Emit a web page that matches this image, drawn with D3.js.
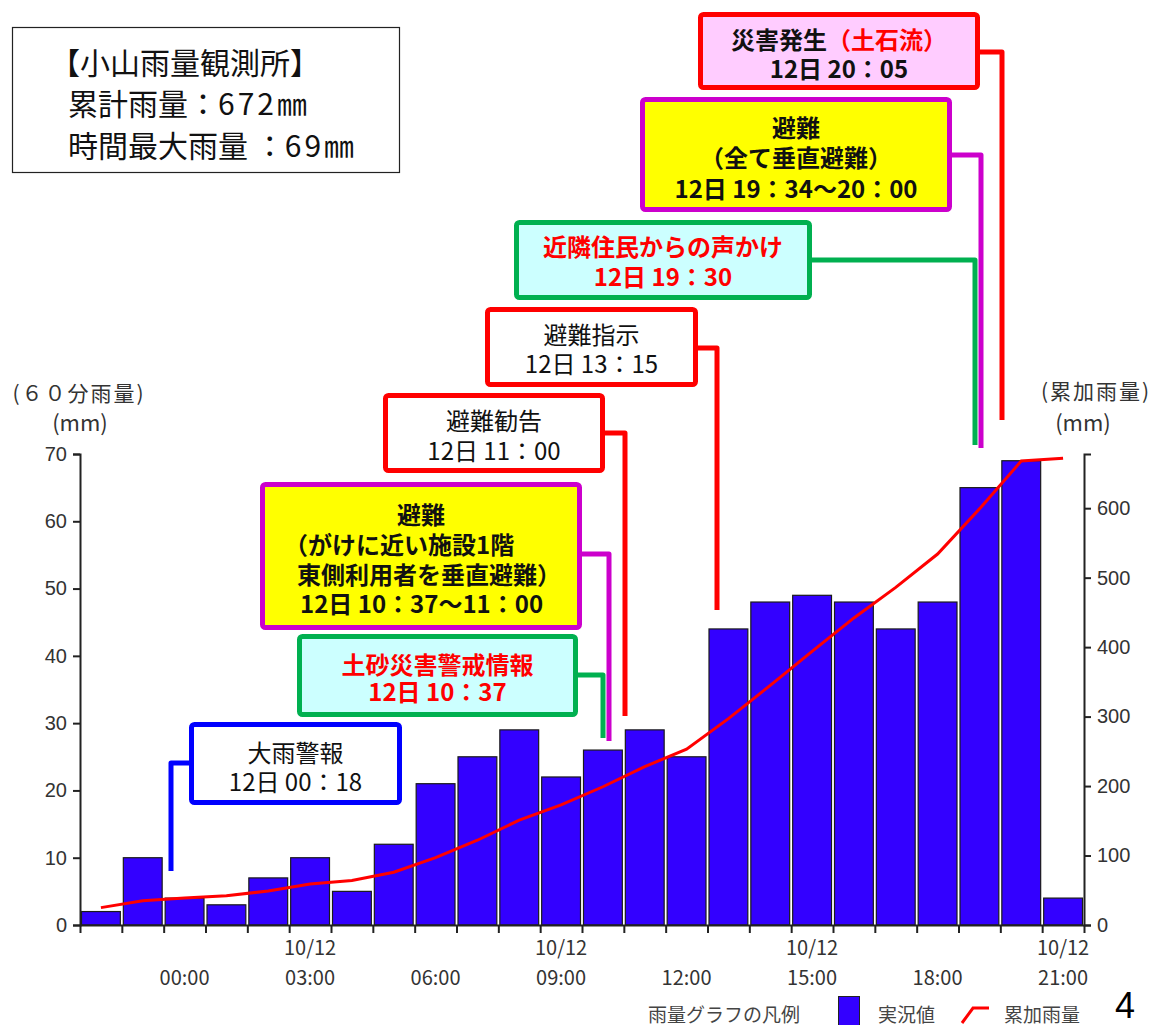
<!DOCTYPE html>
<html lang="ja">
<head>
<meta charset="utf-8">
<title>小山雨量観測所 雨量グラフ</title>
<script src="https://cdn.jsdelivr.net/npm/d3@7/dist/d3.min.js"></script>
<style>
  html, body { margin: 0; padding: 0; background: #fff; }
  svg { display: block; font-family: "Noto Sans CJK JP", "Noto Sans", sans-serif; }
  .axis text { fill: #333; font-size: 20px; }
  .axis path, .axis line { stroke: #222; stroke-width: 2; }
</style>
</head>
<body>
<svg id="chart" width="1155" height="1025"></svg>
<script>
// ---- data ----
const hours = ["22:00","23:00","00:00","01:00","02:00","03:00","04:00","05:00",
               "06:00","07:00","08:00","09:00","10:00","11:00","12:00","13:00",
               "14:00","15:00","16:00","17:00","18:00","19:00","20:00","21:00"];
// 60-minute rainfall (mm)
const rain60 = [2,10,4,3,7,10,5,12,21,25,29,22,26,29,25,44,48,49,48,44,48,65,69,4];
// accumulated rainfall (mm)
const cumRain = [25,35,39,42,49,59,64,76,97,122,151,173,199,228,253,297,345,394,442,486,534,599,668,672];
const timeTicks = ["00:00","03:00","06:00","09:00","12:00","15:00","18:00","21:00"];
const dateTicks = ["03:00","09:00","15:00","21:00"];
const dateLabel = "10/12";
const leftTicks = [0,10,20,30,40,50,60,70];
const rightTicks = [0,100,200,300,400,500,600];
const leftMax = 70;
const rightMax = 678;

// ---- layout ----
const svg = d3.select("#chart");
const plot = { left: 80, right: 1084, top: 454, bottom: 925 };

const x = d3.scaleBand().domain(hours).range([plot.left, plot.right]).paddingInner(0).paddingOuter(0);
const xEdge = d3.scaleLinear().domain([0, hours.length]).range([plot.left, plot.right]);
const yL = d3.scaleLinear().domain([0, leftMax]).range([plot.bottom, plot.top]);
const yR = d3.scaleLinear().domain([0, rightMax]).range([plot.bottom, plot.top]);

// bars
svg.append("g").selectAll("rect").data(rain60).join("rect")
  .attr("x", (d, i) => x(hours[i]) + 1.5)
  .attr("width", x.bandwidth() - 3)
  .attr("y", d => yL(d))
  .attr("height", d => yL(0) - yL(d))
  .attr("fill", "#3300ff")
  .attr("stroke", "#1a1a1a")
  .attr("stroke-width", 1.2);

// accumulated line
const line = d3.line()
  .x((d, i) => x(hours[i]) + x.bandwidth() / 2)
  .y(d => yR(d));
svg.append("path").datum(cumRain)
  .attr("d", line)
  .attr("fill", "none")
  .attr("stroke", "#ff0000")
  .attr("stroke-width", 3);

// left axis
svg.append("g").attr("class", "axis")
  .attr("transform", `translate(${plot.left},0)`)
  .call(d3.axisLeft(yL).tickValues(leftTicks).tickSize(7).tickSizeOuter(7).tickPadding(6));
// right axis
svg.append("g").attr("class", "axis")
  .attr("transform", `translate(${plot.right},0)`)
  .call(d3.axisRight(yR).tickValues(rightTicks).tickSize(7).tickSizeOuter(7).tickPadding(6));
// bottom axis: ticks on hour boundaries
svg.append("g").attr("class", "axis")
  .attr("transform", `translate(0,${plot.bottom})`)
  .call(d3.axisBottom(xEdge).tickValues(d3.range(hours.length + 1)).tickFormat("").tickSize(8).tickSizeOuter(0));

// time labels under bar centres
const lab = svg.append("g").attr("fill", "#333").attr("font-size", 20).attr("text-anchor", "middle");
lab.selectAll("text.t").data(timeTicks).join("text").attr("class", "t")
  .attr("x", d => x(d) + x.bandwidth() / 2)
  .attr("y", 976).attr("dominant-baseline", "central").text(d => d);
lab.selectAll("text.d").data(dateTicks).join("text").attr("class", "d")
  .attr("x", d => x(d) + x.bandwidth() / 2)
  .attr("y", 946).attr("dominant-baseline", "central").text(dateLabel);

// axis titles
const ttl = svg.append("g").attr("fill", "#333").attr("text-anchor", "middle")
  .attr("dominant-baseline", "central");
[
  { t: "(６０分雨量)", x: 79, y: 392, s: 21, ls: 2 },
  { t: "(mm)", x: 80, y: 421, s: 22, ls: 0 },
  { t: "(累加雨量)", x: 1096, y: 390, s: 21, ls: 2 },
  { t: "(mm)", x: 1083, y: 421, s: 22, ls: 0 }
].forEach(d => ttl.append("text").attr("x", d.x).attr("y", d.y)
  .attr("font-size", d.s).attr("letter-spacing", d.ls).text(d.t));

// station summary box
const info = svg.append("g");
info.append("rect").attr("x", 12.5).attr("y", 27.5).attr("width", 387).attr("height", 145)
  .attr("fill", "#fff").attr("stroke", "#222").attr("stroke-width", 1.2);
const infoText = info.append("text").attr("font-size", 30).attr("fill", "#111");
infoText.append("tspan").attr("x", 50).attr("y", 74).text("【小山雨量観測所】");
const l2 = infoText.append("tspan").attr("x", 68).attr("y", 115);
l2.append("tspan").text("累計雨量：");
l2.append("tspan").attr("letter-spacing", 3).text("672");
l2.append("tspan").text("㎜");
const l3 = infoText.append("tspan").attr("x", 68).attr("y", 157);
l3.append("tspan").text("時間最大雨量 ：");
l3.append("tspan").attr("letter-spacing", 3).text("69");
l3.append("tspan").text("㎜");

// event call-outs
const notes = [
  { box: [189, 722, 402, 805], stroke: "#0000ff", fill: "#ffffff", bold: false,
    lines: [[{ t: "大雨警報", c: "#111" }], [{ t: "12日 00：18", c: "#111" }]], ly: [753, 782],
    link: [[189, 763], [171, 763], [171, 871]] },
  { box: [297, 634, 578, 717], stroke: "#00b050", fill: "#ccffff", bold: true,
    lines: [[{ t: "土砂災害警戒情報", c: "#ff0000" }], [{ t: "12日 10：37", c: "#ff0000" }]], ly: [665, 692],
    link: [[578, 675], [603, 675], [603, 738]] },
  { box: [260, 482, 582, 630], stroke: "#cc00cc", fill: "#ffff00", bold: true,
    lines: [[{ t: "避難", c: "#111" }], [{ t: "（がけに近い施設1階", c: "#111" }],
            [{ t: "東側利用者を垂直避難）", c: "#111" }], [{ t: "12日 10：37～11：00", c: "#111" }]],
    ly: [515, 545, 575, 604], lx: [null, 284, 297, 300],
    link: [[582, 554], [609, 554], [609, 741]] },
  { box: [383, 393, 605, 473], stroke: "#ff0000", fill: "#ffffff", bold: false,
    lines: [[{ t: "避難勧告", c: "#111" }], [{ t: "12日 11：00", c: "#111" }]], ly: [421, 451],
    link: [[605, 433], [625, 433], [625, 716]] },
  { box: [485, 307, 698, 387], stroke: "#ff0000", fill: "#ffffff", bold: false,
    lines: [[{ t: "避難指示", c: "#111" }], [{ t: "12日 13：15", c: "#111" }]], ly: [335, 364],
    link: [[698, 348], [717, 348], [717, 610]] },
  { box: [514, 220, 812, 300], stroke: "#00b050", fill: "#ccffff", bold: true,
    lines: [[{ t: "近隣住民からの声かけ", c: "#ff0000" }], [{ t: "12日 19：30", c: "#ff0000" }]], ly: [247, 277],
    link: [[812, 260], [975, 260], [975, 445]] },
  { box: [640, 97, 952, 212], stroke: "#cc00cc", fill: "#ffff00", bold: true,
    lines: [[{ t: "避難", c: "#111" }], [{ t: "（全て垂直避難）", c: "#111" }], [{ t: "12日 19：34～20：00", c: "#111" }]],
    ly: [128, 158, 189],
    link: [[952, 155], [981, 155], [981, 448]] },
  { box: [698, 12, 980, 90], stroke: "#ff0000", fill: "#ffccff", bold: true,
    lines: [[{ t: "災害発生", c: "#111" }, { t: "（土石流）", c: "#ff0000" }], [{ t: "12日 20：05", c: "#111" }]],
    ly: [40, 69],
    link: [[980, 52], [1002, 52], [1002, 420]] }
];

const sw = 5;
const ng = svg.append("g");
notes.forEach(n => {
  const g = ng.append("g");
  g.append("polyline")
    .attr("points", n.link.map(p => p.join(",")).join(" "))
    .attr("fill", "none").attr("stroke", n.stroke).attr("stroke-width", sw)
    .attr("stroke-linejoin", "round");
  const [x0, y0, x1, y1] = n.box;
  g.append("rect")
    .attr("x", x0 + sw / 2).attr("y", y0 + sw / 2)
    .attr("width", x1 - x0 - sw).attr("height", y1 - y0 - sw)
    .attr("rx", 3).attr("fill", n.fill).attr("stroke", n.stroke).attr("stroke-width", sw);
  const cx = (x0 + x1) / 2;
  // one text block per call-out, one tspan per line
  const t = g.append("text")
    .attr("font-size", 24)
    .attr("font-weight", n.bold ? "bold" : "normal");
  n.lines.forEach((parts, i) => {
    const left = n.lx && n.lx[i] != null;
    const row = t.append("tspan")
      .attr("x", left ? n.lx[i] : cx).attr("y", n.ly[i] + 9)
      .attr("text-anchor", left ? "start" : "middle");
    parts.forEach(p => row.append("tspan").attr("fill", p.c).text(p.t));
  });
});

// legend
const lg = svg.append("g").attr("font-size", 19).attr("fill", "#444").attr("dominant-baseline", "central");
lg.append("text").attr("x", 648).attr("y", 1013).text("雨量グラフの凡例");
lg.append("rect").attr("x", 838.5).attr("y", 996.5).attr("width", 21).attr("height", 32)
  .attr("fill", "#3300ff").attr("stroke", "#222").attr("stroke-width", 1);
lg.append("text").attr("x", 878).attr("y", 1013).text("実況値");
lg.append("path").attr("d", "M962,1023 L973,1008 L989,1008")
  .attr("fill", "none").attr("stroke", "#ff0000").attr("stroke-width", 3);
lg.append("text").attr("x", 1004).attr("y", 1013).text("累加雨量");
svg.append("text").attr("x", 1115).attr("y", 1018)
  .attr("font-size", 36).attr("fill", "#000").attr("font-family", "Liberation Sans, sans-serif").text("4");
</script>
</body>
</html>
